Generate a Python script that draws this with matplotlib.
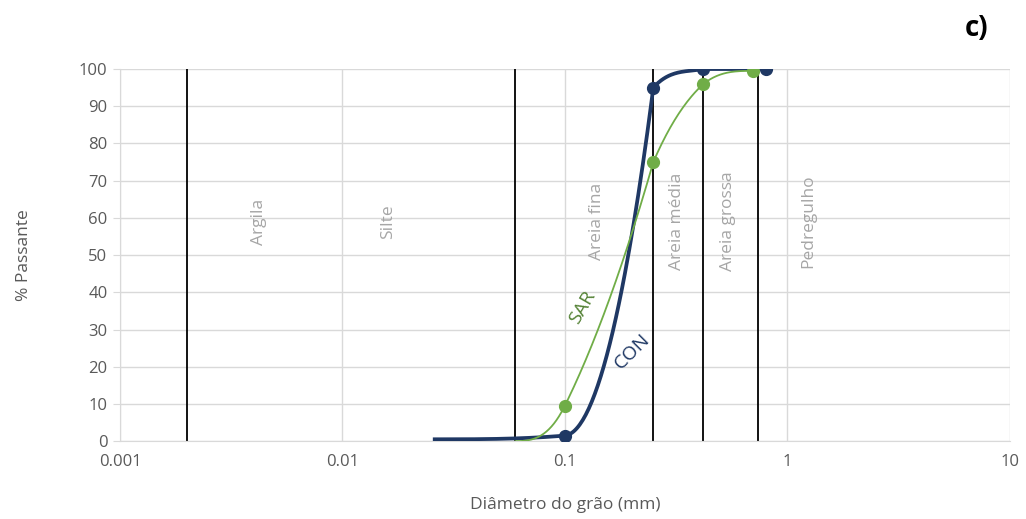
import numpy as np
import matplotlib
matplotlib.use('Agg')
import matplotlib.pyplot as plt

plt.rcParams['font.family'] = ['Open Sans', 'DejaVu Sans']

# dados
con_d = [0.026, 0.1, 0.25, 0.42, 0.7, 0.8]
con_p = [0.5, 1.5, 95, 100, 100, 100]
sar_d = [0.06, 0.1, 0.25, 0.42, 0.7]
sar_p = [0.0, 9.5, 75, 96, 99.5]

limites = [0.002, 0.06, 0.25, 0.42, 0.74]
classes = ['Argila', 'Silte', 'Areia fina', 'Areia média', 'Areia grossa', 'Pedregulho']
classes_x = [0.0042, 0.016, 0.14, 0.318, 0.54, 1.24]

azul = '#1f3864'
verde = '#70ad47'
cinza = '#595959'


def suaviza(x, y, n=60):
    # linha suavizada (hermite em log x), sem ultrapassar os pontos
    x = np.asarray(x, float)
    y = np.asarray(y, float)
    h = np.diff(x)
    d = np.diff(y) / h
    N = len(x)
    cr = np.zeros(N)
    cr[1:-1] = (y[2:] - y[:-2]) / (x[2:] - x[:-2])
    xs, ys = [], []
    for k in range(N - 1):
        if k == 0:
            s0 = 0.0
        else:
            s0 = np.clip(cr[k], 0, 3 * min(d[k - 1], d[k]))
        if k == N - 2:
            s1 = 0.0
        else:
            s1 = np.clip(max(cr[k + 1], 2 * d[k] - s0), 0, 3 * d[k])
        t = np.linspace(0, 1, n)
        h00 = 2 * t**3 - 3 * t**2 + 1
        h10 = t**3 - 2 * t**2 + t
        h01 = -2 * t**3 + 3 * t**2
        h11 = t**3 - t**2
        xs.append(x[k] + t * h[k])
        ys.append(h00 * y[k] + h10 * h[k] * s0 + h01 * y[k + 1] + h11 * h[k] * s1)
    return np.concatenate(xs), np.concatenate(ys)


fig = plt.figure(figsize=(10.26, 5.19), dpi=100)
ax = fig.add_axes([0.117, 0.150, 0.867, 0.717])

for lim in limites:
    ax.axvline(lim, color='black', lw=1.3, zorder=2)

for nome, xc in zip(classes, classes_x):
    ax.text(xc, 59, nome, rotation=90, ha='center', va='center', color='#a6a6a6', fontsize=12.5)

for d, p, cor, lw in [(con_d, con_p, azul, 2.7), (sar_d, sar_p, verde, 1.3)]:
    lx, ly = suaviza(np.log10(d), p)
    ax.plot(10**lx, ly, color=cor, lw=lw, zorder=3)
    ax.plot(d[1:], p[1:], 'o', color=cor, ms=8.5, zorder=4)

ax.text(0.1205, 36, 'SAR', rotation=60, color='#548235', fontsize=14, ha='center', va='center')
ax.text(0.2, 24, 'CON', rotation=45, color=azul, fontsize=14, ha='center', va='center')

ax.set_xscale('log')
ax.set_xlim(0.001, 10)
ax.set_ylim(0, 100)
ax.set_yticks(range(0, 101, 10))
ax.set_xticks([0.001, 0.01, 0.1, 1, 10])
ax.set_xticklabels(['0.001', '0.01', '0.1', '1', '10'])
ax.minorticks_off()
ax.grid(True, color='#d9d9d9', lw=1)
ax.set_axisbelow(True)
for s in ['top', 'right']:
    ax.spines[s].set_visible(False)
for s in ['left', 'bottom']:
    ax.spines[s].set_color('#d9d9d9')
ax.tick_params(axis='both', colors=cinza, labelsize=12, length=0, pad=9)
ax.tick_params(axis='y', length=5, color='#d9d9d9', pad=4)
ax.set_xlabel('Diâmetro do grão (mm)', color=cinza, fontsize=12.5, labelpad=20)
ax.set_ylabel('% Passante', color=cinza, fontsize=12.5, labelpad=34)

fig.text(0.952, 0.945, 'c)', fontsize=20, fontweight='bold', ha='center', va='center')

fig.savefig('out.png', dpi=100)
